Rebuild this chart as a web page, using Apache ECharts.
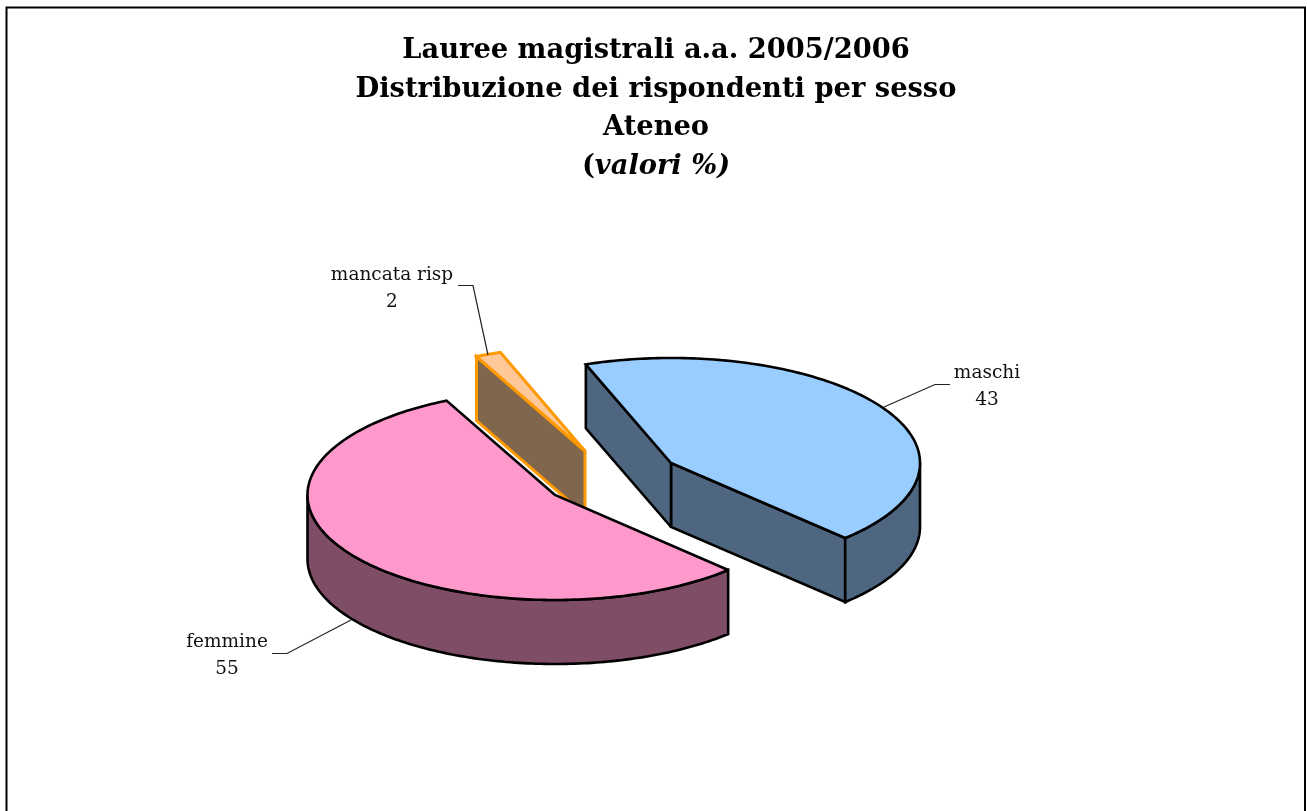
<!DOCTYPE html>
<html><head><meta charset="utf-8">
<style>html,body{margin:0;padding:0;background:#fff}#c{width:1307px;height:811px}</style>
<script src="https://cdn.jsdelivr.net/npm/echarts@6/dist/echarts.min.js"></script>
</head><body><div id="c"></div>
<script>
var titleLines = ['Lauree magistrali a.a. 2005/2006','Distribuzione dei rispondenti per sesso','Ateneo'];
var titleNote = 'valori %';
var categories = ['maschi','mancata risp','femmine'];
var values = [43,2,55];

// layout of the tilted pie
var FONT = 'DejaVu Serif';
var START_DEG = -45.6, RY = 105, DEPTH = 64;
var radiiX = [249,247.5,247.5];
var centers = [[671,463],[585,451],[555,495]];
var projectionNudge = [0,0.8,-0.4]; // small shift of each slice's first edge, from the tilted projection
var topColors = ['#99CCFF','#FFC898','#FF99CC'];
var sideColors = ['#4F6680','#80664C','#804D66'];
var edgeColors = ['#000000','#FF9900','#000000'];
var leaders = [
  [[950,384.5],[935,384.5],[884,407]],
  [[458,285.5],[473,285.5],[488,355]],
  [[272,653.5],[287,653.5],[351,620]]
];
var labelPos = [[987,386.5],[392,288.5],[227,655.5]];

var total = values.reduce(function(a,b){return a+b;},0);

function edgeAngle(i){
  if(i>=values.length) return START_DEG+360;
  var before=0;
  for(var k=0;k<i;k++) before+=values[k];
  return START_DEG+before/total*360+projectionNudge[i];
}
function arc(c,rx,a0,a1,dy){
  var pts=[], n=Math.max(2,Math.ceil(Math.abs(a1-a0)));
  for(var i=0;i<=n;i++){
    var t=(a0+(a1-a0)*i/n)*Math.PI/180;
    pts.push([c[0]+rx*Math.cos(t), c[1]-RY*Math.sin(t)+dy]);
  }
  return pts;
}
function poly(points,fill,stroke,w){
  return {type:'polygon',shape:{points:points},
    style:{fill:fill,stroke:stroke,lineWidth:w,lineJoin:'miter',miterLimit:2.5}};
}
function wedge(c,rx,a,fill,stroke,w){ // flat cut face from the centre out to angle a
  var p=arc(c,rx,a,a,0)[0];
  return poly([c,p,[p[0],p[1]+DEPTH],[c[0],c[1]+DEPTH]],fill,stroke,w);
}

function renderItem(params,api){
  var i=params.dataIndex;
  var a0=edgeAngle(i), a1=edgeAngle(i+1);
  var c=centers[i], rx=radiiX[i], side=sideColors[i], edge=edgeColors[i], top=topColors[i];
  var w=(i===1)?3:2.6;
  var kids=[];
  // the cut faces that look at the viewer
  if(i===0) kids.push(wedge(c,rx,a0,side,edge,w));
  if(i!==2) kids.push(wedge(c,rx,a1,side,edge,w));
  // the visible part of the outer wall (lower half of the ellipse)
  if(i!==1){
    var lo=(i===2)?180:a0, hi=(i===2)?a1:0;
    kids.push(poly(arc(c,rx,lo,hi,0).concat(arc(c,rx,hi,lo,DEPTH)),side,edge,w));
  }
  // top face
  kids.push(poly([c].concat(arc(c,rx,a0,a1,0)),top,edge,w));
  // leader line and label
  kids.push({type:'polyline',shape:{points:leaders[i]},style:{fill:null,stroke:'#222',lineWidth:1.2}});
  kids.push({type:'text',style:{x:labelPos[i][0],y:labelPos[i][1],text:categories[i]+'\n'+api.value(1),
    align:'center',verticalAlign:'middle',lineHeight:27,fill:'#111',font:'18.5px "'+FONT+'"'}});
  return {type:'group',children:kids};
}

var chart=echarts.init(document.getElementById('c'),null,{renderer:'canvas'});
chart.setOption({
  animation:false,
  backgroundColor:'#fff',
  title:{
    left:651,top:27,textAlign:'center',
    text:titleLines.join('\n')+'\n{b|(}{i|'+titleNote+')}',
    textStyle:{fontFamily:FONT,fontWeight:'bold',fontSize:27.3,color:'#000',lineHeight:38.5,
      rich:{b:{fontFamily:FONT,fontWeight:'bold',fontSize:27.3,lineHeight:38.5,color:'#000'},
            i:{fontFamily:FONT,fontWeight:'bold',fontStyle:'italic',fontSize:27.3,lineHeight:38.5,color:'#000'}}}
  },
  graphic:[{type:'polyline',silent:true,z:-1,shape:{points:[[6.5,811],[6.5,7.5],[1305,7.5],[1305,811]]},
    style:{fill:null,stroke:'#000',lineWidth:2}}],
  series:[{
    type:'custom',coordinateSystem:'none',silent:true,
    renderItem:renderItem,
    data:categories.map(function(n,i){return {name:n,value:[i,values[i]]};})
  }]
});
</script></body></html>
